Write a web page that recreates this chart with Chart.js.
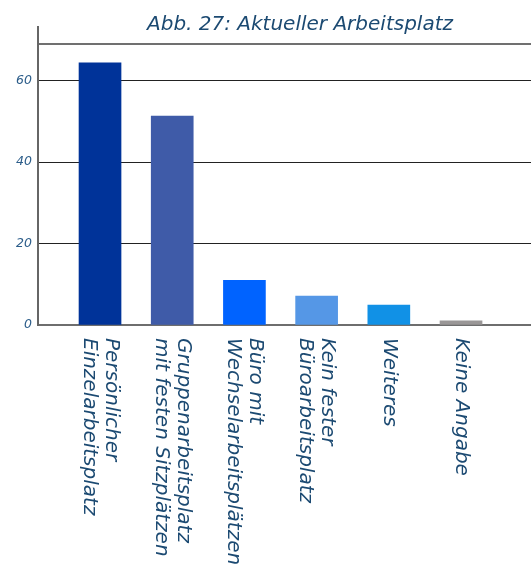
<!DOCTYPE html>
<html>
<head>
<meta charset="utf-8">
<script src="https://cdn.jsdelivr.net/npm/chart.js@4"></script>
<style>
    html, body { margin: 0; padding: 0; background: #fff; }
    #wrap { width: 531px; height: 570px; }
</style>
</head>
<body>
<div id="wrap"><canvas id="chart" width="531" height="570"></canvas></div>
<script>
const title = 'Abb. 27: Aktueller Arbeitsplatz';
const categories = [
    ['Persönlicher', 'Einzelarbeitsplatz'],
    ['Gruppenarbeitsplatz', 'mit festen Sitzplätzen'],
    ['Büro mit', 'Wechselarbeitsplätzen'],
    ['Kein fester', 'Büroarbeitsplatz'],
    ['Weiteres'],
    ['Keine Angabe'],
];
const values = [64.4, 51.3, 11, 7.1, 4.9, 1];
const barColors = ['#003399', '#3f5ba8', '#0063ff', '#5597e6', '#1191e6', '#9a9797'];
const yTickValues = [0, 20, 40, 60, 69];
const yTickLabels = ['0', '20', '40', '60', ''];

const textColor = '#1c4a72';
const fontFamily = '"DejaVu Sans", sans-serif';

// title and rotated category labels are painted by hand
const labelsPlugin = {
    id: 'labels',
    afterDraw: (chart) => {
        const ctx = chart.ctx;
        const x = chart.scales.x;
        const bottom = chart.chartArea.bottom;

        ctx.save();
        ctx.fillStyle = textColor;
        ctx.font = `oblique 20px ${fontFamily}`;
        ctx.textAlign = 'center';
        ctx.textBaseline = 'alphabetic';
        ctx.fillText(title, 300, 30);

        ctx.font = `oblique 20px ${fontFamily}`;
        ctx.textAlign = 'left';
        ctx.textBaseline = 'middle';
        categories.forEach((lines, i) => {
            ctx.save();
            ctx.translate(x.getPixelForValue(i), bottom + 13);
            ctx.rotate(Math.PI / 2);
            lines.forEach((line, j) => {
                ctx.fillText(line, 0, (j - (lines.length - 1) / 2) * 22);
            });
            ctx.restore();
        });
        ctx.restore();
    }
};

new Chart('chart', {
    type: 'bar',
    data: {
        datasets: [{
            data: values.map((v, i) => ({ x: i, y: v })),
            backgroundColor: barColors,
            barThickness: 42,
        }],
    },
    options: {
        responsive: false,
        animation: false,
        layout: { padding: { top: 27, right: 0, left: 0, bottom: 0 } },
        plugins: {
            legend: { display: false },
            tooltip: { enabled: false },
        },
        scales: {
            x: {
                type: 'linear',
                offset: false,
                min: -0.859,
                max: 5.969,
                grid: { display: false },
                ticks: { display: false },
                border: { display: true, color: '#6e6e6e', width: 2 },
                afterFit: (scale) => { scale.height = 245; },
            },
            y: {
                min: 0,
                max: 73.2,
                afterBuildTicks: (scale) => {
                    scale.ticks = yTickValues.map((value) => ({ value }));
                },
                afterFit: (scale) => { scale.width = 38; },
                grid: {
                    drawTicks: false,
                    color: (c) => (c.tick && c.tick.value === 69 ? '#707070' : '#222'),
                    lineWidth: (c) => (c.tick && c.tick.value === 69 ? 2 : 1),
                },
                border: { display: true, color: '#666', width: 2 },
                ticks: {
                    padding: 6,
                    color: '#2c5d8a',
                    font: { family: fontFamily, style: 'oblique', size: 12.5 },
                    callback: (value, index) => yTickLabels[index],
                },
            },
        },
    },
    plugins: [labelsPlugin],
});
</script>
</body>
</html>
